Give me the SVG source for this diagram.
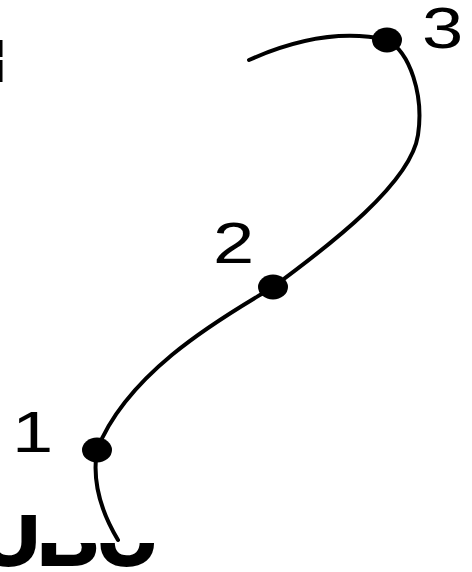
<svg xmlns="http://www.w3.org/2000/svg" width="472" height="572" viewBox="0 0 472 572">
  <style>
    .curve { fill: none; stroke: #000; stroke-width: 4; stroke-linecap: round; stroke-linejoin: round; }
    .dot { fill: #000; }
    .lbl { font-family: "Liberation Sans", Arial, sans-serif; font-size: 57px; fill: #000; }
    .big { font-family: "Liberation Sans", Arial, sans-serif; font-weight: bold; font-size: 86px; fill: #000; stroke: #000; stroke-width: 2; letter-spacing: -3px; }
  </style>
  <defs>
    <clipPath id="textClip">
      <polygon points="0,515 38,515 38,543 472,543 472,572 0,572"/>
    </clipPath>
  </defs>
  <rect width="472" height="572" fill="#fff"/>

  <g id="fragments">
    <rect x="0" y="40" width="2.5" height="17" fill="#000"/>
    <rect x="0" y="60" width="2.5" height="22" fill="#000"/>
    <text class="big" x="-22" y="565" clip-path="url(#textClip)">UBU</text>
  </g>

  <g id="connectors">
    <path class="curve" d="M 249 60 C 285 44, 335 28, 387 40 C 410 52, 424 95, 418 135 C 411 183, 330 245, 273 287 C 240 308, 130 365, 97 450 C 92 480, 100 510, 118 540"/>
  </g>

  <g id="node-1">
    <ellipse class="dot" cx="97" cy="450" rx="15" ry="12.5"/>
    <text class="lbl" transform="translate(12 452) scale(1.3 1)">1</text>
  </g>
  <g id="node-2">
    <ellipse class="dot" cx="273" cy="287" rx="15" ry="12.5"/>
    <text class="lbl" transform="translate(213 263) scale(1.3 1)">2</text>
  </g>
  <g id="node-3">
    <ellipse class="dot" cx="387" cy="40" rx="15" ry="12.5"/>
    <text class="lbl" transform="translate(422 48) scale(1.3 1)">3</text>
  </g>
</svg>
